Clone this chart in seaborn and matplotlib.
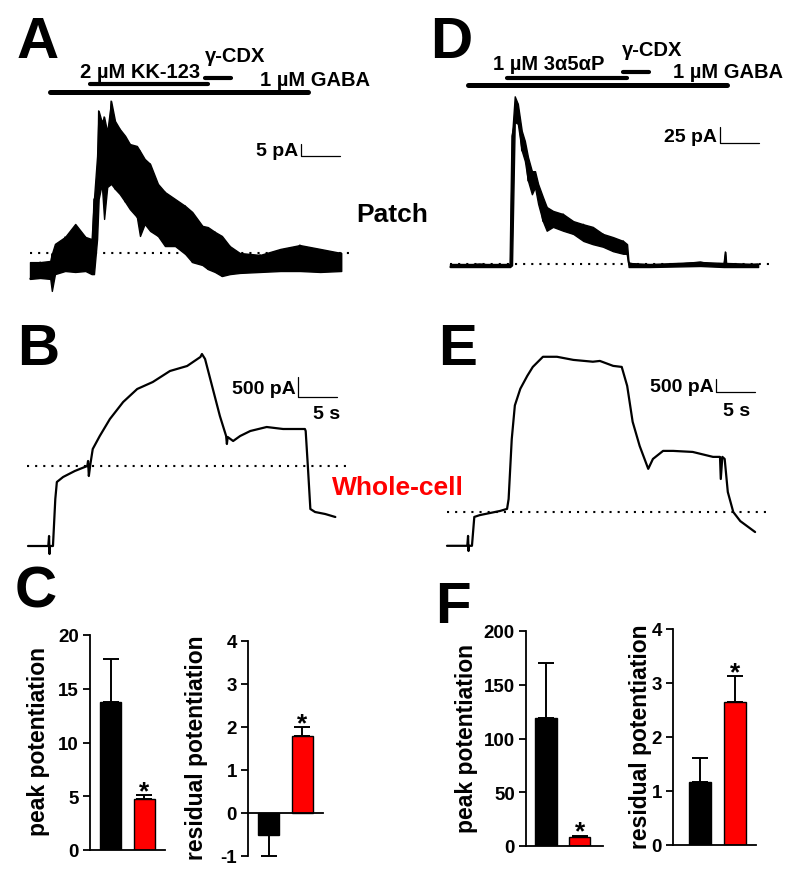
import numpy as np
import pandas as pd
import matplotlib
matplotlib.use("Agg")
import matplotlib.pyplot as plt
import seaborn as sns

# ---------------- values ----------------
# A: patch, 2 uM KK-123 (noisy trace kept as upper / lower envelope), time in s, current in pA
a_time = [0.0, 1.3, 2.6, 2.8, 3.2, 4.5, 5.8, 7.1, 7.9, 8.2, 8.6, 8.8, 9.2, 9.5, 9.9,
          10.4, 10.9, 11.5, 12.2, 12.8, 13.7, 14.1, 14.7, 15.4, 16.4, 17.3, 18.6, 19.9,
          20.8, 22.1, 22.8, 23.7, 24.6, 25.6, 26.9, 29.5, 32.1, 34.6, 37.2, 39.9]
a_upper = [-3.8, -3.8, -3.3, -0.4, 3.8, 6.7, 12.1, 6.7, 5.8, 22.5, 40.4, 59.2, 54.6, 56.7,
           50.4, 63.3, 55.0, 51.7, 48.8, 45.4, 44.6, 42.5, 39.2, 37.1, 28.8, 25.4, 22.5,
           19.6, 17.1, 11.3, 10.8, 8.8, 7.1, 2.9, 0.0, -0.8, 1.7, 3.3, 1.7, 0.0]
a_lower = [-10.8, -10.4, -10.8, -15.8, -8.8, -7.5, -7.9, -7.5, -8.8, -8.8, 5.8, 22.5, 28.8,
           14.2, 27.5, 28.8, 26.7, 24.6, 21.3, 18.3, 15.0, 7.1, 12.1, 9.2, 7.1, 2.9, 2.9,
           -0.4, -3.8, -5.0, -6.7, -7.9, -9.6, -8.8, -8.3, -7.9, -7.5, -7.5, -7.9, -7.5]
a_gaba = [2.6, 35.6]
a_drug = [7.7, 22.8]
a_cdx = [22.4, 25.8]

# D: patch, 1 uM 3a5aP
d_time = [0.0, 3.8, 7.7, 7.95, 8.3, 8.7, 9.2, 9.6, 10.0, 10.5, 10.9, 11.3, 11.9, 12.4, 13.2,
          14.5, 15.8, 17.1, 18.3, 19.6, 20.9, 22.2, 22.7, 22.9, 25.6, 32.1, 35.1, 35.3, 35.4, 39.5]
d_upper = [0.0, 0.0, 0.0, 200, 262, 250, 208, 192, 167, 145, 145, 125, 105, 89, 83,
           78, 67, 62, 58, 47, 42, 36, 31, 1.6, 0.0, 3.1, 1.6, 18.8, 1.6, 0.0]
d_lower = [-4.7, -4.7, -4.7, -2, 222, 219, 177, 161, 130, 109, 120, 94, 67, 52, 58,
           52, 47, 36, 31, 27, 20, 16, 16, -4.7, -4.7, -3.1, -4.7, -4.7, -4.7, -4.7]
d_gaba = [2.3, 35.5]
d_drug = [7.3, 22.7]
d_cdx = [22.2, 25.5]

# B: whole-cell, KK-123
b_time = [0.0, 2.6, 2.7, 2.76, 2.8, 3.2, 3.5, 3.7, 4.5, 6.0, 7.6, 7.7, 7.8, 8.0, 8.3,
          9.2, 10.5, 12.2, 14.0, 16.0, 18.2, 20.4, 22.1, 22.3, 22.7, 23.7, 24.6, 25.4,
          25.5, 25.6, 26.3, 27.2, 28.5, 30.6, 32.7, 35.5, 35.6, 35.9, 36.2, 36.8, 38.1, 39.4]
b_current = [-2000, -2000, -1750, -2200, -2000, -2000, -825, -400, -275, -125, 0, 125, -250,
             50, 425, 750, 1175, 1600, 1925, 2100, 2375, 2500, 2725, 2800, 2675, 1925, 1250,
             750, 550, 725, 625, 750, 875, 975, 925, 925, 875, -75, -1075, -1150, -1200, -1275]

# E: whole-cell, 3a5aP
e_time = [0.0, 2.6, 2.7, 2.76, 2.8, 3.2, 3.5, 4.2, 6.8, 7.7, 7.9, 8.3, 8.7, 9.4, 10.3,
          11.0, 12.3, 14.1, 16.2, 18.7, 19.6, 21.3, 22.4, 23.1, 23.8, 24.7, 25.8, 26.4,
          27.7, 29.0, 31.5, 34.1, 35.0, 35.1, 35.3, 35.6, 36.0, 36.7, 37.6, 39.5]
e_current = [-1300, -1300, -920, -1500, -1300, -1300, -190, -120, 40, 120, 500, 2800, 4100,
             4740, 5240, 5580, 5970, 5970, 5850, 5780, 5810, 5620, 5580, 4850, 3470, 2540,
             1660, 2040, 2350, 2350, 2310, 2120, 2120, 1270, 2120, 2040, 770, 0, -350, -770]

# C / F: summary bars (steroid alone, steroid + gamma-CDX)
bar_groups = ["steroid", "steroid + γ-CDX"]
bar_colors = ["black", "#ff0000"]
c_peak, c_peak_err = [13.8, 4.7], [4.0, 0.4]
c_resid, c_resid_err = [-0.5, 1.8], [0.5, 0.2]
f_peak, f_peak_err = [119, 8.4], [51, 1.0]
f_resid, f_resid_err = [1.17, 2.65], [0.45, 0.48]

# ---------------- style ----------------
sns.set_style("white")
plt.rcParams["font.family"] = ["Liberation Sans", "DejaVu Sans"]
plt.rcParams["text.color"] = "black"
plt.rcParams["axes.unicode_minus"] = False

W, H = 800, 878
fig = plt.figure(figsize=(W / 100, H / 100), dpi=100)


def ftext(x, y, s, **kw):
    kw.setdefault("fontweight", "bold")
    fig.text(x / W, 1 - y / H, s, **kw)


def trace_panel(box, origin, pxu, pxs=7.8):
    left, right, top, bottom = box
    ax = fig.add_axes([left / W, 1 - bottom / H, (right - left) / W, (bottom - top) / H])

    def conv(x, y):
        return (x - origin[0]) / pxs, (origin[1] - y) / pxu

    def frame():
        ax.set_xlim(conv(left, 0)[0], conv(right, 0)[0])
        ax.set_ylim(conv(0, bottom)[1], conv(0, top)[1])
        ax.axis("off")
    return ax, conv, frame


def noisy_trace(ax, t, lo, hi):
    # envelope band plus a zig-zag between the read upper / lower values
    ax.fill_between(t, lo, hi, color="black", edgecolor="black", lw=1.0)
    zig = [h if i % 2 else l for i, (l, h) in enumerate(zip(lo, hi))]
    ax.plot(t, zig, color="black", lw=1.0)


def baseline(ax, conv, x0, x1):
    ax.hlines(0, conv(x0, 0)[0], conv(x1, 0)[0], colors="black", lw=1.5,
              linestyles=(0, (1, 2.9)))


def drug_bar(ax, conv, window, ypx, lw):
    y = conv(0, ypx)[1]
    ax.plot(window, [y, y], color="black", lw=lw, solid_capstyle="round")


def scale_bar(ax, conv, corner, amp):
    t, i = conv(*corner)
    ax.plot([t, t, t + 5], [i + amp, i, i], color="black", lw=0.9)


# ---- A ----
ax, conv, frame = trace_panel((0, 400, 30, 300), (30, 254), 2.4)
noisy_trace(ax, a_time, a_lower, a_upper)
baseline(ax, conv, 30, 355)
drug_bar(ax, conv, a_gaba, 93, 3.6)
drug_bar(ax, conv, a_drug, 85, 3.0)
drug_bar(ax, conv, a_cdx, 79, 3.0)
scale_bar(ax, conv, (301, 157), 5)
frame()
ftext(298, 152, "5 pA", ha="right", va="center", fontsize=14)
ftext(80, 72, "2 µM KK-123", ha="left", va="center", fontsize=14.5)
ftext(205, 57, "γ-CDX", ha="left", va="center", fontsize=14.5)
ftext(260, 80, "1 µM GABA", ha="left", va="center", fontsize=14.5)

# ---- D ----
ax, conv, frame = trace_panel((400, 800, 30, 300), (450, 265), 0.64)
noisy_trace(ax, d_time, d_lower, d_upper)
baseline(ax, conv, 450, 773)
drug_bar(ax, conv, d_gaba, 86, 3.6)
drug_bar(ax, conv, d_drug, 79, 3.0)
drug_bar(ax, conv, d_cdx, 73, 3.0)
scale_bar(ax, conv, (720, 144), 25)
frame()
ftext(717, 137, "25 pA", ha="right", va="center", fontsize=14)
ftext(493, 65, "1 µM 3α5αP", ha="left", va="center", fontsize=14.5)
ftext(622, 51, "γ-CDX", ha="left", va="center", fontsize=14.5)
ftext(673, 72, "1 µM GABA", ha="left", va="center", fontsize=14.5)

# ---- B ----
ax, conv, frame = trace_panel((0, 400, 300, 570), (28, 467), 0.04)
sns.lineplot(x=b_time, y=b_current, ax=ax, color="black", lw=1.6, sort=False, estimator=None)
baseline(ax, conv, 27, 352)
scale_bar(ax, conv, (298, 398), 500)
frame()
ftext(296, 390, "500 pA", ha="right", va="center", fontsize=14)
ftext(327, 415, "5 s", ha="center", va="center", fontsize=14)

# ---- E ----
ax, conv, frame = trace_panel((400, 800, 300, 570), (447, 513), 0.026)
sns.lineplot(x=e_time, y=e_current, ax=ax, color="black", lw=1.6, sort=False, estimator=None)
baseline(ax, conv, 447, 770)
scale_bar(ax, conv, (716, 393), 500)
frame()
ftext(714, 388, "500 pA", ha="right", va="center", fontsize=14)
ftext(737, 412, "5 s", ha="center", va="center", fontsize=14)

ftext(392, 215, "Patch", ha="center", va="center", fontsize=19)
ftext(398, 488, "Whole-cell", ha="center", va="center", fontsize=19, color="#ff0000")


# ---- C / F bar charts ----
def bar_panel(box, values, errs, ylim, ticks, xlim, label, label_xy):
    left, right, top, bottom = box
    ax = fig.add_axes([left / W, 1 - bottom / H, (right - left) / W, (bottom - top) / H])
    df = pd.DataFrame({"group": bar_groups, "value": values})
    sns.barplot(data=df, x="group", y="value", hue="group", palette=bar_colors,
                saturation=1, legend=False, width=0.62, edgecolor="black", linewidth=1,
                errorbar=None, ax=ax)
    lower = [e if v < 0 else 0 for v, e in zip(values, errs)]
    upper = [0 if v < 0 else e for v, e in zip(values, errs)]
    ax.errorbar([0, 1], values, yerr=[lower, upper], fmt="none", ecolor="black",
                elinewidth=1.4, capsize=6, capthick=1.4)
    ax.annotate("*", (1, values[1] + upper[1]), xytext=(0, 3), textcoords="offset points",
                ha="center", va="center", fontsize=19, fontweight="bold")
    ax.set_xlim(xlim)
    ax.set_ylim(ylim)
    ax.set_yticks(ticks)
    ax.set_yticklabels([f"{t:g}" for t in ticks], fontweight="bold", fontsize=13.5)
    ax.set_xticks([])
    ax.set_xlabel("")
    ax.set_ylabel("")
    sns.despine(ax=ax)
    ax.spines["bottom"].set_position(("data", 0))
    for s in ("left", "bottom"):
        ax.spines[s].set_linewidth(1.3)
        ax.spines[s].set_color("black")
    ax.tick_params(axis="y", left=True, length=5, width=1.3, color="black",
                   labelcolor="black", pad=3)
    ax.patch.set_alpha(0)
    ftext(label_xy[0], label_xy[1], label, rotation=90, ha="center", va="center", fontsize=16.5)


bar_panel((90, 165, 636, 851), c_peak, c_peak_err, (0, 20), [0, 5, 10, 15, 20],
          (-0.603, 1.603), "peak potentiation", (39, 742))
bar_panel((248, 323, 642, 857), c_resid, c_resid_err, (-1, 4), [-1, 0, 1, 2, 3, 4],
          (-0.603, 1.603), "residual potentiation", (197, 748))
bar_panel((526, 603, 632, 847), f_peak, f_peak_err, (0, 200), [0, 50, 100, 150, 200],
          (-0.59, 1.68), "peak potentiation", (466, 739))
bar_panel((673, 756, 630, 846), f_resid, f_resid_err, (0, 4), [0, 1, 2, 3, 4],
          (-0.76, 1.58), "residual potentiation", (641, 737))

# panel letters
for letter, x, y in [("A", 17, 58), ("D", 430, 58), ("B", 17, 365), ("E", 438, 365),
                     ("C", 15, 608), ("F", 435, 623)]:
    ftext(x, y, letter, ha="left", va="baseline", fontsize=42)

fig.savefig("out.png", dpi=100)
